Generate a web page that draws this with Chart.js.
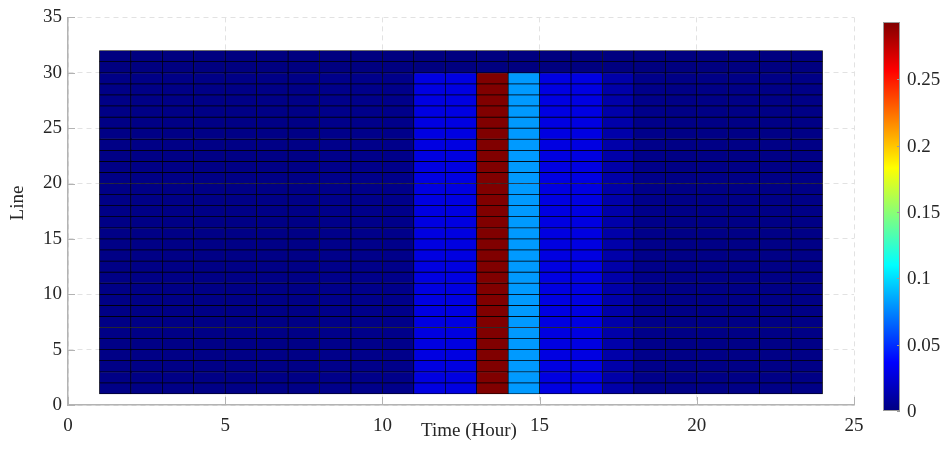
<!DOCTYPE html>
<html>
<head>
<meta charset="utf-8">
<title>Line loading by hour</title>
<script src="https://cdn.jsdelivr.net/npm/chart.js@4.4.1/dist/chart.umd.min.js"></script>
<style>
  html, body { margin: 0; padding: 0; background: #fff; }
</style>
</head>
<body>
<canvas id="heat" width="940" height="449"></canvas>
<script>
// cell edges along the time axis (hourly cells 1..24)
var hours = [1, 2, 3, 4, 5, 6, 7, 8, 9, 10, 11, 12, 13, 14, 15, 16, 17, 18, 19, 20, 21, 22, 23, 24];
// cell edges along the line axis
var lines = [1, 2, 3, 4, 5, 6, 7, 8, 9, 10, 11, 12, 13, 14, 15, 16, 17, 18, 19, 20, 21, 22, 23, 24, 25, 26, 27, 28, 29, 30, 31, 32];
// value per hourly cell for lines 1-29
var hourValues = [0.002, 0.002, 0.002, 0.002, 0.002, 0.002, 0.002, 0.003, 0.003, 0.003,
                  0.028, 0.028, 0.2931, 0.081, 0.028, 0.028, 0.012,
                  0.003, 0.002, 0.002, 0.002, 0.002, 0.002];
// value per hourly cell for lines 30-31
var upperValues = [0, 0, 0, 0, 0, 0, 0, 0, 0, 0, 0, 0, 0, 0, 0, 0, 0, 0, 0, 0, 0, 0, 0];
var upperFrom = 30;

var xTicks = [0, 5, 10, 15, 20, 25];
var yTicks = [0, 5, 10, 15, 20, 25, 30, 35];
var cMin = 0, cMax = 0.2931;
var colorTicks = [0, 0.05, 0.1, 0.15, 0.2, 0.25];

var serif = "'Liberation Serif', 'Times New Roman', serif";
var textColor = '#262626';
var axisColor = '#b3b3b3';

// jet colormap
function jet(v) {
  var f = Math.min(1, Math.max(0, (v - cMin) / (cMax - cMin)));
  function ch(d) { return Math.round(255 * Math.min(1, Math.max(0, 1.5 - Math.abs(4 * f - d)))); }
  return 'rgb(' + ch(3) + ',' + ch(2) + ',' + ch(1) + ')';
}

var cells = [];
for (var i = 0; i < hours.length - 1; i++) {
  for (var j = 0; j < lines.length - 1; j++) {
    cells.push({
      x: (hours[i] + hours[i + 1]) / 2,
      y: [lines[j], lines[j + 1]],
      v: lines[j] < upperFrom ? hourValues[i] : upperValues[i]
    });
  }
}

// inward ticks, axis titles and the colorbar
var decorations = {
  id: 'decorations',
  afterDatasetsDraw: function (chart) {
    var ctx = chart.ctx, area = chart.chartArea;
    var xs = chart.scales.x, ys = chart.scales.y;
    ctx.save();
    ctx.strokeStyle = axisColor;
    ctx.lineWidth = 1;
    ctx.beginPath();
    xTicks.forEach(function (t) {
      var px = Math.round(xs.getPixelForValue(t)) + 0.5;
      ctx.moveTo(px, area.bottom);
      ctx.lineTo(px, area.bottom - 8);
    });
    yTicks.forEach(function (t) {
      var py = Math.round(ys.getPixelForValue(t)) + 0.5;
      ctx.moveTo(area.left, py);
      ctx.lineTo(area.left + 7, py);
    });
    ctx.stroke();
    ctx.restore();
  },
  afterDraw: function (chart) {
    var ctx = chart.ctx, area = chart.chartArea;
    ctx.save();
    ctx.font = '19px ' + serif;
    ctx.fillStyle = textColor;
    ctx.textAlign = 'center';
    ctx.textBaseline = 'middle';
    ctx.fillText('Time (Hour)', (area.left + area.right) / 2 + 8, 431);
    ctx.save();
    ctx.translate(18, 203);
    ctx.rotate(-Math.PI / 2);
    ctx.fillText('Line', 0, 0);
    ctx.restore();

    // colorbar
    var cb = { left: area.right + 29, width: 17, top: 22, bottom: 411 };
    var g = ctx.createLinearGradient(0, cb.bottom, 0, cb.top);
    g.addColorStop(0, 'rgb(0,0,128)');
    g.addColorStop(1 / 8, 'rgb(0,0,255)');
    g.addColorStop(3 / 8, 'rgb(0,255,255)');
    g.addColorStop(5 / 8, 'rgb(255,255,0)');
    g.addColorStop(7 / 8, 'rgb(255,0,0)');
    g.addColorStop(1, 'rgb(128,0,0)');
    ctx.fillStyle = g;
    ctx.fillRect(cb.left, cb.top, cb.width, cb.bottom - cb.top);
    ctx.strokeStyle = '#9a9a9a';
    ctx.lineWidth = 1;
    ctx.strokeRect(cb.left + 0.5, cb.top + 0.5, cb.width - 1, cb.bottom - cb.top - 1);

    ctx.fillStyle = textColor;
    ctx.textAlign = 'left';
    ctx.beginPath();
    colorTicks.forEach(function (t) {
      var py = cb.bottom - (t - cMin) / (cMax - cMin) * (cb.bottom - cb.top);
      ctx.moveTo(cb.left + cb.width, Math.round(py) + 0.5);
      ctx.lineTo(cb.left + cb.width - 3, Math.round(py) + 0.5);
      ctx.fillText(String(t), cb.left + cb.width + 7, py + 1);
    });
    ctx.stroke();
    ctx.restore();
  }
};

new Chart(document.getElementById('heat'), {
  type: 'bar',
  data: {
    datasets: [{
      data: cells,
      backgroundColor: function (c) { return c.raw ? jet(c.raw.v) : jet(0); },
      borderColor: '#000',
      borderWidth: 0.7,
      borderSkipped: false,
      barPercentage: 1,
      categoryPercentage: 1,
      grouped: false
    }]
  },
  options: {
    responsive: false,
    animation: false,
    layout: { padding: { top: 15, right: 86, left: 0, bottom: 0 } },
    plugins: { legend: { display: false }, tooltip: { enabled: false } },
    scales: {
      x: {
        type: 'linear',
        min: 0,
        max: 25,
        offset: false,
        afterFit: function (s) { s.height = 44; },
        afterBuildTicks: function (s) { s.ticks = xTicks.map(function (v) { return { value: v }; }); },
        ticks: { padding: 10, color: textColor, font: { family: serif, size: 19 } },
        grid: { offset: false, drawTicks: false, color: '#e2e2e2', lineWidth: 1 },
        border: { color: axisColor, width: 1.5, dash: [5, 4] }
      },
      y: {
        min: 0,
        max: 35,
        afterFit: function (s) { s.width = 68; },
        afterBuildTicks: function (s) { s.ticks = yTicks.map(function (v) { return { value: v }; }); },
        ticks: { padding: 6, color: textColor, font: { family: serif, size: 19 } },
        grid: { drawTicks: false, color: '#e2e2e2', lineWidth: 1 },
        border: { color: axisColor, width: 1.5, dash: [5, 4] }
      }
    }
  },
  plugins: [decorations]
});
</script>
</body>
</html>
